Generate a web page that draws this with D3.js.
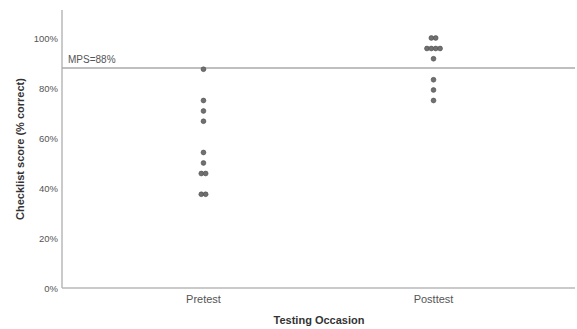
<!DOCTYPE html>
<html>
<head>
<meta charset="utf-8">
<script src="https://cdn.jsdelivr.net/npm/d3@7"></script>
<style>
  body { margin: 0; background: #fff; }
  text { font-family: "Liberation Sans", Arial, sans-serif; }
</style>
</head>
<body>
<div id="chart"></div>
<script>
var width = 577;
var height = 329;

// checklist scores (% correct), 24-item checklist
var occasions = ['Pretest', 'Posttest'];
var pretest = [87.5, 75, 70.8, 66.7, 54.2, 50, 45.8, 45.8, 37.5, 37.5];
var posttest = [100, 100, 95.8, 95.8, 95.8, 95.8, 91.7, 83.3, 79.2, 75];
var yTicks = [0, 20, 40, 60, 80, 100];
var mps = 88;

// plot area edges ("top" is taken by window.top)
var plotLeft = 62, plotRight = 575, plotTop = 10, plotBottom = 288;

var svg = d3.select("#chart")
    .append("svg")
      .attr("width", width)
      .attr("height", height)
      .style("background-color", "#fff")

var x = d3.scalePoint().domain(occasions).range([plotLeft, plotRight]).padding(0.615);
var y = d3.scaleLinear().domain([0, 111.2]).range([plotBottom, plotTop]);

// axes
svg.append("line")
    .attr("x1", plotLeft).attr("x2", plotLeft)
    .attr("y1", plotTop).attr("y2", plotBottom)
    .attr("stroke", "#b8b8b8").attr("stroke-width", 1.5)
svg.append("line")
    .attr("x1", plotLeft).attr("x2", plotRight)
    .attr("y1", plotBottom).attr("y2", plotBottom)
    .attr("stroke", "#b8b8b8").attr("stroke-width", 1.5)

svg.selectAll(".ytick")
    .data(yTicks)
    .join("text")
      .attr("class", "ytick")
      .attr("x", plotLeft - 4)
      .attr("y", function(d) { return y(d) + 3.5; })
      .attr("text-anchor", "end")
      .attr("font-size", 9.5)
      .attr("fill", "#555")
      .text(function(d) { return d + "%"; })

svg.selectAll(".xtick")
    .data(occasions)
    .join("text")
      .attr("class", "xtick")
      .attr("x", function(d) { return x(d); })
      .attr("y", 303)
      .attr("text-anchor", "middle")
      .attr("font-size", 11)
      .attr("fill", "#555")
      .text(function(d) { return d; })

// axis titles
svg.append("text")
    .attr("x", 319).attr("y", 324)
    .attr("text-anchor", "middle")
    .attr("font-size", 11).attr("font-weight", "bold")
    .attr("fill", "#333")
    .text("Testing Occasion")
svg.append("text")
    .attr("transform", "translate(24," + ((plotTop + plotBottom) / 2) + ") rotate(-90)")
    .attr("text-anchor", "middle")
    .attr("font-size", 11).attr("font-weight", "bold")
    .attr("fill", "#333")
    .text("Checklist score (% correct)")

// MPS reference line
svg.append("line")
    .attr("x1", plotLeft).attr("x2", plotRight)
    .attr("y1", y(mps)).attr("y2", y(mps))
    .attr("stroke", "#aaa").attr("stroke-width", 1.5)
svg.append("text")
    .attr("x", 68).attr("y", y(mps) - 5)
    .attr("font-size", 10)
    .attr("fill", "#555")
    .text("MPS=" + mps + "%")

// dots, side by side where scores tie
var points = [];
[pretest, posttest].forEach(function(vals, i) {
	var groups = d3.group(vals, function(v) { return v; });
	groups.forEach(function(g, v) {
		g.forEach(function(_, j) {
			points.push({ occ: occasions[i], value: v, off: (j - (g.length - 1) / 2) * 4.4 });
		});
	});
});

svg.selectAll("circle")
    .data(points)
    .join("circle")
      .attr("cx", function(d) { return x(d.occ) + d.off; })
      .attr("cy", function(d) { return y(d.value); })
      .attr("r", 2.4)
      .attr("fill", "#707070")
      .attr("stroke", "#4a4a4a")
      .attr("stroke-width", 0.6)
</script>
</body>
</html>
